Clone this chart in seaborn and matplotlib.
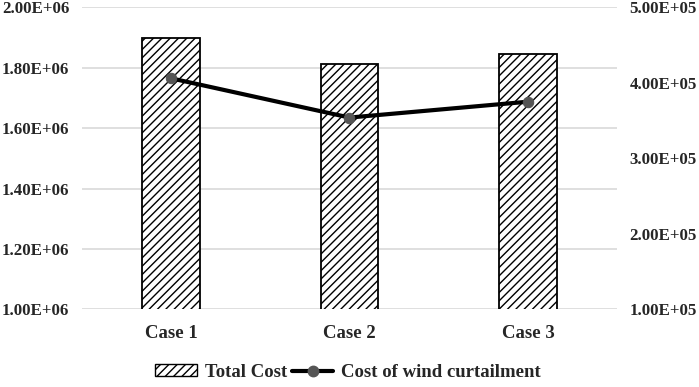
import matplotlib
matplotlib.use("Agg")
import matplotlib.pyplot as plt
import seaborn as sns
import pandas as pd
from matplotlib.ticker import FuncFormatter, FixedLocator
from matplotlib.patches import Patch
from matplotlib.lines import Line2D

cases = ["Case 1", "Case 2", "Case 3"]
total_cost = [1.900e6, 1.813e6, 1.846e6]
curtail_cost = [4.06e5, 3.54e5, 3.75e5]
left_ticks = [1.0e6, 1.2e6, 1.4e6, 1.6e6, 1.8e6, 2.0e6]
right_ticks = [1.0e5, 2.0e5, 3.0e5, 4.0e5, 5.0e5]

sns.set_theme(style="white")
plt.rcParams["font.family"] = ["Liberation Serif", "DejaVu Serif"]
plt.rcParams["font.weight"] = "bold"
plt.rcParams["hatch.linewidth"] = 1.0
plt.rcParams["hatch.color"] = "black"

df = pd.DataFrame({"case": cases, "total": total_cost, "curt": curtail_cost})

fig = plt.figure(figsize=(6.99, 3.87), dpi=100)
ax = fig.add_axes([0.117, 0.2008, 0.766, 0.7802])

sns.barplot(data=df, x="case", y="total", ax=ax, color="white", width=0.32,
            edgecolor="black", linewidth=1.3, hatch="////", zorder=3)
ax.set_ylim(1.0e6, 2.0e6)
ax.yaxis.set_major_locator(FixedLocator(left_ticks))
ax.yaxis.set_major_formatter(FuncFormatter(lambda v, p: f"{v:.2E}"))
ax.grid(axis="y", color="#d9d9d9", linewidth=1.2, zorder=0)
ax.set_axisbelow(True)
for s in ax.spines.values():
    s.set_visible(False)
ax.set_xlabel("")
ax.set_ylabel("")
ax.tick_params(axis="y", length=0, pad=9, labelsize=12.2)
ax.tick_params(axis="x", length=0, pad=11, labelsize=13.5)
for t in ax.get_xticklabels() + ax.get_yticklabels():
    t.set_fontweight("bold")

ax2 = ax.twinx()
sns.lineplot(x=[0, 1, 2], y=df["curt"], ax=ax2, color="black", linewidth=3,
             marker="o", markersize=7.5, markerfacecolor="#555555",
             markeredgecolor="#555555", zorder=5)
ax2.set_ylim(1.0e5, 5.0e5)
ax2.set_xlim(-0.5, 2.5)
ax.set_xlim(-0.5, 2.5)
ax2.yaxis.set_major_locator(FixedLocator(right_ticks))
ax2.yaxis.set_major_formatter(FuncFormatter(lambda v, p: f"{v:.2E}"))
for s in ax2.spines.values():
    s.set_visible(False)
ax2.set_ylabel("")
ax2.tick_params(axis="y", length=0, pad=9, labelsize=12.2)
for t in ax2.get_yticklabels():
    t.set_fontweight("bold")
ax2.grid(False)

handles = [
    Patch(facecolor="white", edgecolor="black", hatch="////", linewidth=1.0),
    Line2D([0], [0], color="black", linewidth=3, marker="o", markersize=7.5,
           markerfacecolor="#555555", markeredgecolor="#555555"),
]
fig.legend(handles, ["Total Cost", "Cost of wind curtailment"],
           loc="center", bbox_to_anchor=(0.498, 0.038), ncol=2, frameon=False,
           prop={"family": "Liberation Serif", "weight": "bold", "size": 13.5},
           handlelength=2.2, handleheight=0.6, handletextpad=0.43,
           columnspacing=0.27)

fig.savefig("out.png", dpi=100)
